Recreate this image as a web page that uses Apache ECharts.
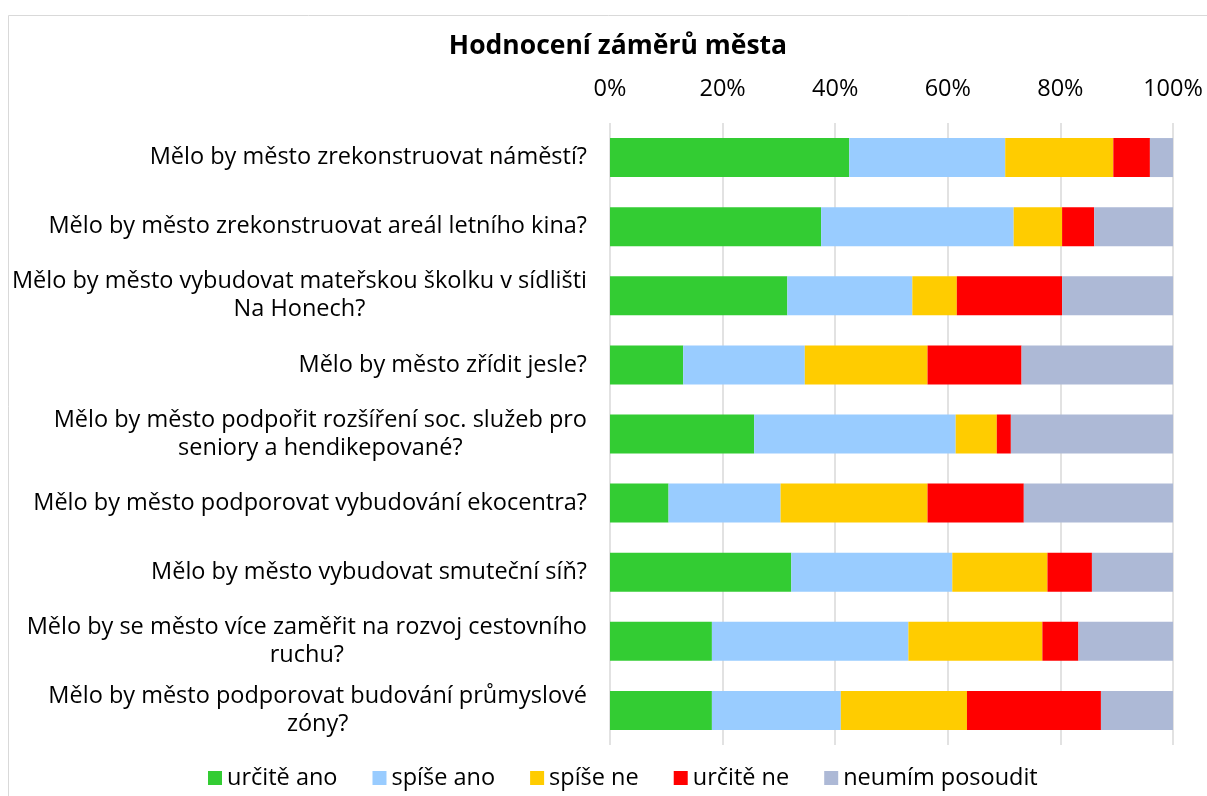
<!DOCTYPE html>
<html>
<head>
    <meta charset="utf-8">
    <title>Hodnocení záměrů města</title>
    <script src="https://cdn.jsdelivr.net/npm/echarts@6/dist/echarts.min.js"></script>
    <style>
        html, body { margin: 0; padding: 0; background: #fff; }
        #main { width: 1207px; height: 796px; }
    </style>
</head>
<body>
    <div id="main"></div>
    <script type="text/javascript">
        // otázky (shora dolů)
        var questions = [
            'Mělo by město zrekonstruovat náměstí?',
            'Mělo by město zrekonstruovat areál letního kina?',
            'Mělo by město vybudovat mateřskou školku v sídlišti\nNa Honech?',
            'Mělo by město zřídit jesle?',
            'Mělo by město podpořit rozšíření soc. služeb pro\nseniory a hendikepované?',
            'Mělo by město podporovat vybudování ekocentra?',
            'Mělo by město vybudovat smuteční síň?',
            'Mělo by se město více zaměřit na rozvoj cestovního\nruchu?',
            'Mělo by město podporovat budování průmyslové\nzóny?'
        ];

        var seriesNames = ['určitě ano', 'spíše ano', 'spíše ne', 'určitě ne', 'neumím posoudit'];

        // podíly odpovědí v %
        var urciteAno = [42.5, 37.5, 31.5, 13.0, 25.6, 10.4, 32.2, 18.1, 18.1];
        var spiseAno = [27.7, 34.2, 22.2, 21.6, 35.8, 19.9, 28.6, 34.9, 22.9];
        var spiseNe = [19.2, 8.6, 7.9, 21.8, 7.3, 26.1, 16.9, 23.8, 22.4];
        var urciteNe = [6.5, 5.7, 18.7, 16.7, 2.5, 17.1, 7.9, 6.4, 23.8];
        var neumim = [4.1, 14.0, 19.7, 26.9, 28.8, 26.5, 14.4, 16.8, 12.8];

        var xTicks = [0, 20, 40, 60, 80, 100];

        var colors = ['#33CC33', '#99CCFF', '#FFCC00', '#FF0000', '#ADB9D6'];
        var FONT = 'Open Sans';

        var myChart = echarts.init(document.getElementById('main'));

        var allValues = [urciteAno, spiseAno, spiseNe, urciteNe, neumim];
        var series = seriesNames.map(function (name, i) {
            return {
                name: name,
                type: 'bar',
                stack: 'total',
                barWidth: 39,
                itemStyle: { color: colors[i] },
                data: allValues[i]
            };
        });

        var option = {
            backgroundColor: '#fff',
            textStyle: { fontFamily: FONT },
            title: {
                text: 'Hodnocení záměrů města',
                left: 613,
                top: 28,
                textAlign: 'center',
                textStyle: { fontFamily: FONT, fontSize: 26.5, fontWeight: 'bold', color: '#000' }
            },
            legend: {
                bottom: 1,
                left: 203,
                itemWidth: 14,
                itemHeight: 14,
                itemGap: 35,
                icon: 'rect',
                textStyle: { fontFamily: FONT, fontSize: 23.5, color: '#000' },
                data: seriesNames
            },
            grid: {
                left: 610,
                right: 34,
                top: 123,
                bottom: 51,
                containLabel: false
            },
            xAxis: {
                type: 'value',
                position: 'top',
                min: xTicks[0],
                max: xTicks[xTicks.length - 1],
                interval: xTicks[1] - xTicks[0],
                axisLine: { show: false },
                axisTick: { show: false },
                axisLabel: {
                    formatter: '{value}%',
                    fontFamily: FONT,
                    fontSize: 23.5,
                    color: '#000',
                    margin: 22
                },
                splitLine: { lineStyle: { color: '#d9d9d9', width: 1.5 } }
            },
            yAxis: {
                type: 'category',
                inverse: true,
                data: questions,
                axisLine: { show: false },
                axisTick: { show: false },
                axisLabel: {
                    margin: 23,
                    align: 'right',
                    formatter: function (v) {
                        return v.split('\n').map(function (s) { return '{c|' + s + '}'; }).join('\n');
                    },
                    rich: {
                        c: { align: 'center', fontFamily: FONT, fontSize: 23.5, color: '#000', lineHeight: 28 }
                    }
                }
            },
            graphic: [{
                type: 'rect',
                shape: { x: 8.5, y: 15.5, width: 1240, height: 820 },
                style: { fill: 'none', stroke: '#d9d9d9', lineWidth: 1 },
                silent: true
            }],
            series: series
        };

        myChart.setOption(option);
    </script>
</body>
</html>
